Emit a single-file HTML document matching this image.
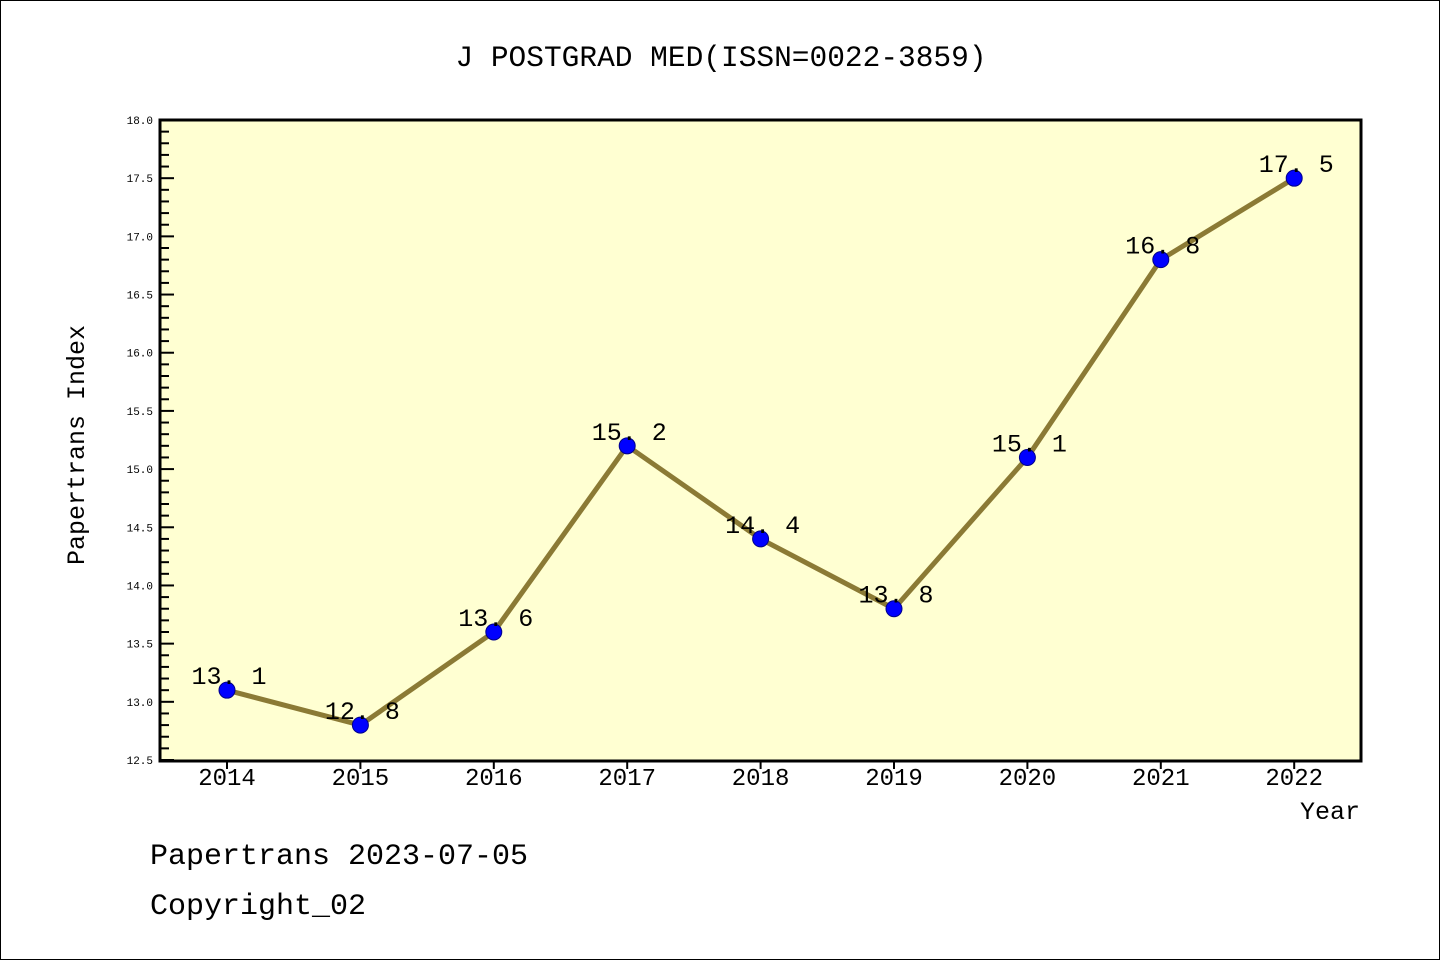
<!DOCTYPE html>
<html><head><meta charset="utf-8"><style>
html,body{margin:0;padding:0;background:#fff}
svg{display:block}
text{font-family:"Liberation Mono",monospace;fill:#000}
</style></head><body>
<svg width="1440" height="960">
<rect x="0.5" y="0.5" width="1439" height="959" fill="#fff" stroke="#000"/>
<text x="721" y="66" text-anchor="middle" font-size="29.5">J POSTGRAD MED(ISSN=0022-3859)</text>
<rect x="160" y="120" width="1201" height="641" fill="#ffffd2"/>
<g id="yaxis"></g>
<g id="xaxis"></g>
<g id="series"></g>
<rect x="160" y="120" width="1201" height="641" fill="none" stroke="#000" stroke-width="3"/>
<text transform="translate(84,445) rotate(-90)" text-anchor="middle" font-size="25">Papertrans Index</text>
<text x="1360" y="819" text-anchor="end" font-size="25">Year</text>
<text x="150" y="864" font-size="30">Papertrans 2023-07-05</text>
<text x="150" y="914" font-size="30">Copyright_02</text>
</svg>
<script>
const years=[2014,2015,2016,2017,2018,2019,2020,2021,2022];
const values=[13.1,12.8,13.6,15.2,14.4,13.8,15.1,16.8,17.5];
const yTicks=[12.5,13.0,13.5,14.0,14.5,15.0,15.5,16.0,16.5,17.0,17.5,18.0];
const NS="http://www.w3.org/2000/svg";
const yMin=12.5,yMax=18.0,yTop=120,yBot=760;
function ys(v){return yBot-(v-yMin)/(yMax-yMin)*(yBot-yTop);}
function xs(i){return 227+i*133.4;}
function mk(tag,a,p){const e=document.createElementNS(NS,tag);for(const k in a)e.setAttribute(k,a[k]);p.appendChild(e);return e;}
const ya=document.getElementById('yaxis');
for(let k=0;k<=55;k++){const v=yMin+k*0.1;const maj=k%5===0;
 const t=mk('line',{x1:160,x2:160+(maj?14:9),y1:ys(v),y2:ys(v),stroke:'#000','stroke-width':2},ya);
 
 }
yTicks.forEach(v=>{const t=mk('text',{x:153,y:ys(v)+4,'text-anchor':'end','font-size':11},ya);t.textContent=v.toFixed(1);
 
 });
const xa=document.getElementById('xaxis');
years.forEach((y,i)=>{const l=mk('line',{x1:xs(i),x2:xs(i),y1:761,y2:769,stroke:'#000','stroke-width':2},xa);
 
 
 const t=mk('text',{x:xs(i),y:785,'text-anchor':'middle','font-size':24},xa);t.textContent=y;
 
 });
const s=document.getElementById('series');
const pl=mk('polyline',{points:values.map((v,i)=>xs(i)+','+ys(v)).join(' '),fill:'none',stroke:'#8b7a35','stroke-width':5,'stroke-linejoin':'round'},s);


values.forEach((v,i)=>{const c=mk('circle',{cx:xs(i),cy:ys(v),r:8,fill:'#0000ff',stroke:'#00008b','stroke-width':1},s);
 
 
 const t=mk('text',{x:xs(i)+2,y:ys(v)-6,'text-anchor':'middle','font-size':25},s);t.textContent=v.toFixed(1).replace('.','. ');
 
 });
</script>
</body></html>
